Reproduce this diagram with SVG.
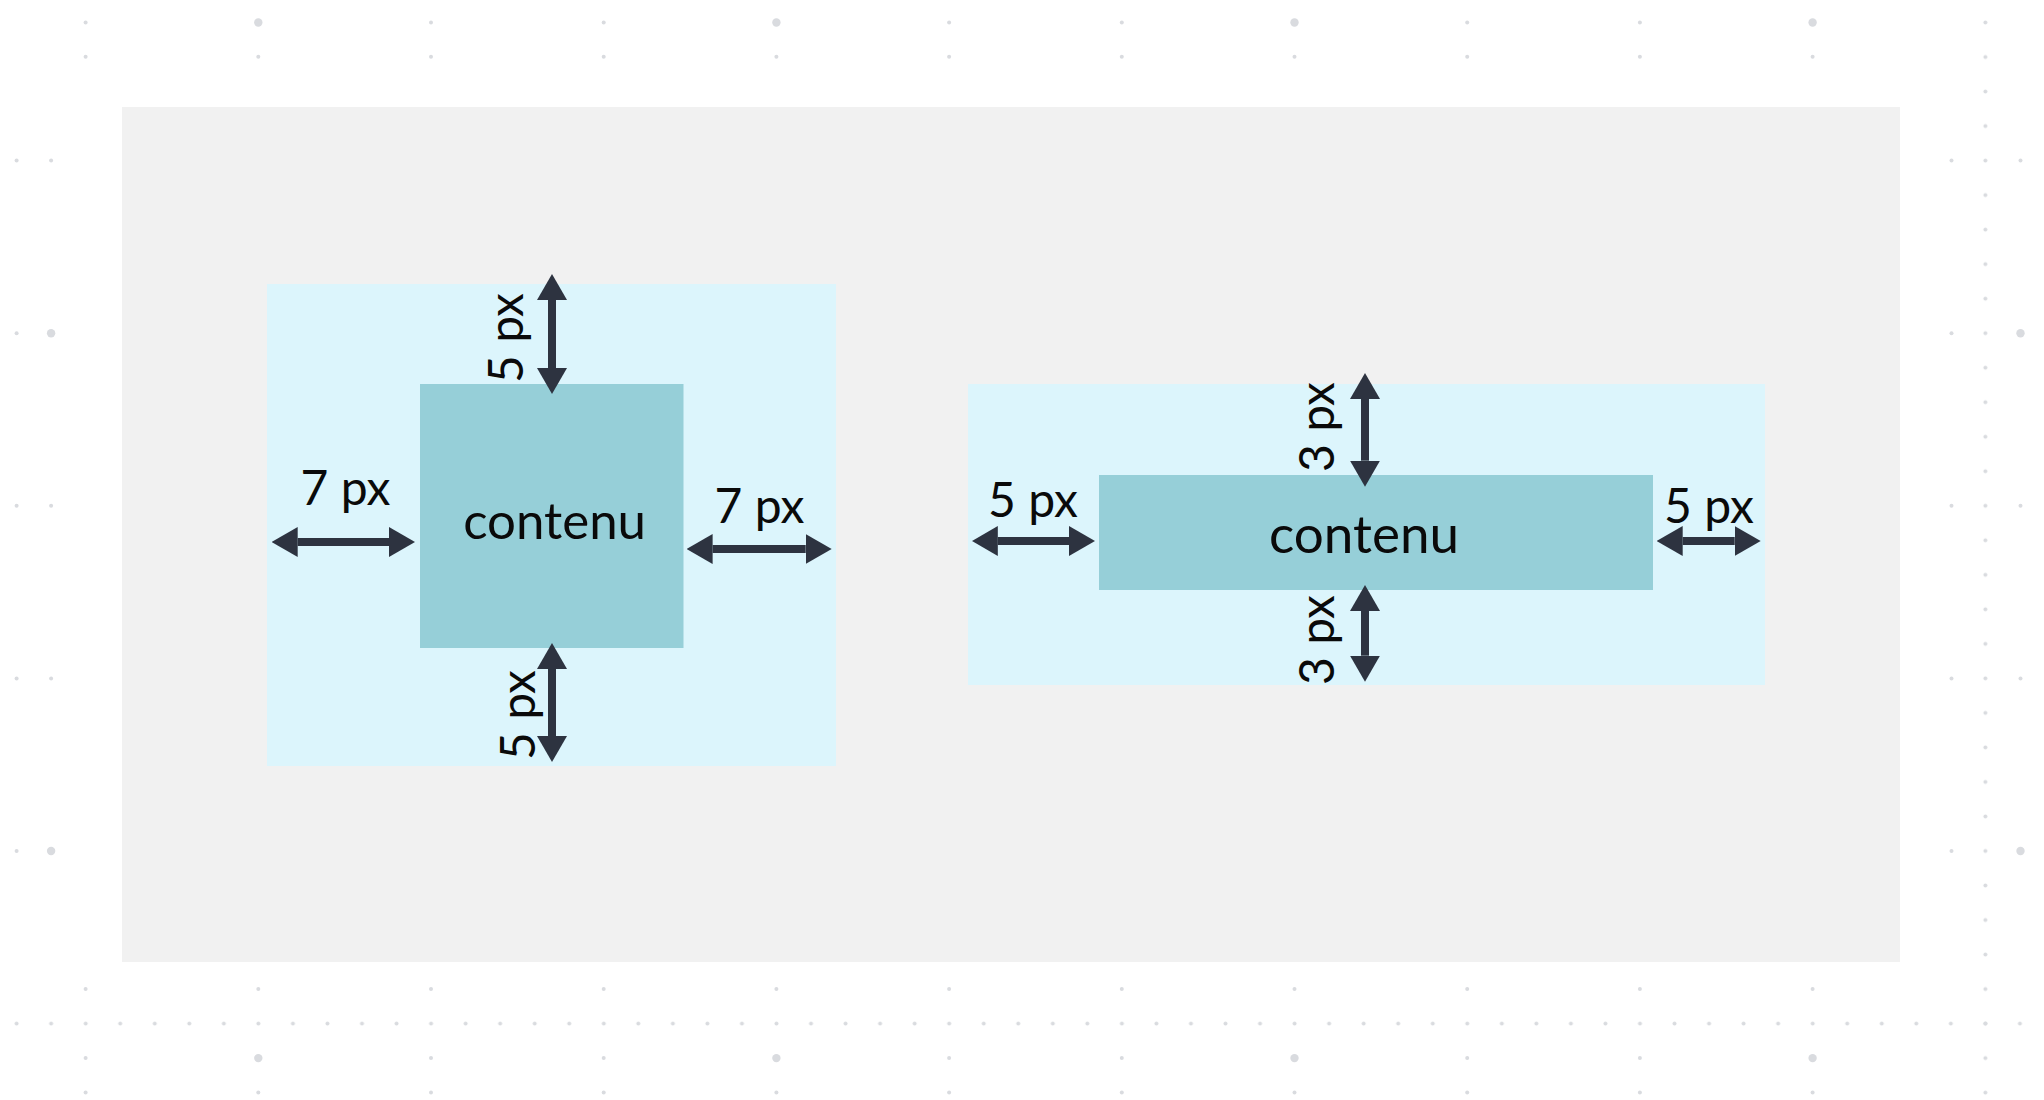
<svg xmlns="http://www.w3.org/2000/svg" width="2044" height="1100" viewBox="0 0 2044 1100">
  <style>
    .dot { fill: #d9dbdf; }
    .panel { fill: #f1f1f1; }
    .pad { fill: #dcf5fc; }
    .content { fill: #96cfd8; }
    .lbl { font-family: Lato, "Liberation Sans", sans-serif; font-size: 48px; fill: #0a0a0a; text-anchor: middle; }
    .arrow { stroke: #2d3340; stroke-width: 8; fill: none; marker-start: url(#head); marker-end: url(#head); }
  </style>
  <defs>
    <pattern id="dense" patternUnits="userSpaceOnUse" x="-0.67" y="5.24" width="34.54" height="34.52">
      <circle cx="17.27" cy="17.26" r="2" class="dot"/>
    </pattern>
    <marker id="head" markerUnits="userSpaceOnUse" viewBox="0 0 26 30" refX="0" refY="15" markerWidth="26" markerHeight="30" orient="auto-start-reverse">
      <path d="M0,0 L26,15 L0,30 Z" fill="#2d3340"/>
    </marker>
  </defs>

  <rect width="2044" height="1100" fill="#ffffff"/>

  <g id="background-dots">
    <rect x="1968" y="5" width="36" height="1100" fill="url(#dense)"/>
    <rect x="0" y="1006.3" width="2037" height="34.5" fill="url(#dense)"/>
    <g class="dot">
      <circle cx="85.6" cy="22.5" r="2"/><circle cx="258.3" cy="22.5" r="4.2"/><circle cx="431" cy="22.5" r="2"/><circle cx="603.7" cy="22.5" r="2"/><circle cx="776.4" cy="22.5" r="4.2"/><circle cx="949.1" cy="22.5" r="2"/><circle cx="1121.8" cy="22.5" r="2"/><circle cx="1294.5" cy="22.5" r="4.2"/><circle cx="1467.2" cy="22.5" r="2"/><circle cx="1639.9" cy="22.5" r="2"/><circle cx="1812.6" cy="22.5" r="4.2"/>
      <circle cx="85.6" cy="56.8" r="2"/><circle cx="258.3" cy="56.8" r="2"/><circle cx="431" cy="56.8" r="2"/><circle cx="603.7" cy="56.8" r="2"/><circle cx="776.4" cy="56.8" r="2"/><circle cx="949.1" cy="56.8" r="2"/><circle cx="1121.8" cy="56.8" r="2"/><circle cx="1294.5" cy="56.8" r="2"/><circle cx="1467.2" cy="56.8" r="2"/><circle cx="1639.9" cy="56.8" r="2"/><circle cx="1812.6" cy="56.8" r="2"/>
      <circle cx="85.6" cy="989.1" r="2"/><circle cx="258.3" cy="989.1" r="2"/><circle cx="431" cy="989.1" r="2"/><circle cx="603.7" cy="989.1" r="2"/><circle cx="776.4" cy="989.1" r="2"/><circle cx="949.1" cy="989.1" r="2"/><circle cx="1121.8" cy="989.1" r="2"/><circle cx="1294.5" cy="989.1" r="2"/><circle cx="1467.2" cy="989.1" r="2"/><circle cx="1639.9" cy="989.1" r="2"/><circle cx="1812.6" cy="989.1" r="2"/>
      <circle cx="85.6" cy="1058.1" r="2"/><circle cx="258.3" cy="1058.1" r="4.2"/><circle cx="431" cy="1058.1" r="2"/><circle cx="603.7" cy="1058.1" r="2"/><circle cx="776.4" cy="1058.1" r="4.2"/><circle cx="949.1" cy="1058.1" r="2"/><circle cx="1121.8" cy="1058.1" r="2"/><circle cx="1294.5" cy="1058.1" r="4.2"/><circle cx="1467.2" cy="1058.1" r="2"/><circle cx="1639.9" cy="1058.1" r="2"/><circle cx="1812.6" cy="1058.1" r="4.2"/>
      <circle cx="85.6" cy="1092.6" r="2"/><circle cx="258.3" cy="1092.6" r="2"/><circle cx="431" cy="1092.6" r="2"/><circle cx="603.7" cy="1092.6" r="2"/><circle cx="776.4" cy="1092.6" r="2"/><circle cx="949.1" cy="1092.6" r="2"/><circle cx="1121.8" cy="1092.6" r="2"/><circle cx="1294.5" cy="1092.6" r="2"/><circle cx="1467.2" cy="1092.6" r="2"/><circle cx="1639.9" cy="1092.6" r="2"/><circle cx="1812.6" cy="1092.6" r="2"/>
      <circle cx="1951.5" cy="160.6" r="2"/><circle cx="1951.5" cy="333.2" r="2"/><circle cx="1951.5" cy="505.8" r="2"/><circle cx="1951.5" cy="678.4" r="2"/><circle cx="1951.5" cy="851" r="2"/>
      <circle cx="2020.5" cy="160.6" r="2"/><circle cx="2020.5" cy="333.2" r="4.2"/><circle cx="2020.5" cy="505.8" r="2"/><circle cx="2020.5" cy="678.4" r="2"/><circle cx="2020.5" cy="851" r="4.2"/>
      <circle cx="16.6" cy="160.6" r="2"/><circle cx="16.6" cy="333.2" r="2"/><circle cx="16.6" cy="505.8" r="2"/><circle cx="16.6" cy="678.4" r="2"/><circle cx="16.6" cy="851" r="2"/>
      <circle cx="51.1" cy="160.6" r="2"/><circle cx="51.1" cy="333.2" r="4.2"/><circle cx="51.1" cy="505.8" r="2"/><circle cx="51.1" cy="678.4" r="2"/><circle cx="51.1" cy="851" r="4.2"/>
    </g>
  </g>

  <rect id="panel" class="panel" x="122" y="107" width="1778" height="855"/>

  <g id="left-padding">
    <rect class="pad" x="267" y="284" width="569" height="482"/>
  </g>
  <g id="left-content">
    <rect class="content" x="420" y="384" width="263.5" height="264"/>
    <text class="lbl" x="554.6" y="539" style="font-size:51px">contenu</text>
  </g>

  <g id="right-padding">
    <rect class="pad" x="968" y="384" width="797" height="301"/>
  </g>
  <g id="right-content">
    <rect class="content" x="1099" y="475" width="554" height="115"/>
    <text class="lbl" x="1364" y="552.7" style="font-size:53px">contenu</text>
  </g>

  <g id="connectors">
    <line class="arrow" x1="297.7" y1="542" x2="389" y2="542"/>
    <line class="arrow" x1="712.6" y1="549" x2="805.7" y2="549"/>
    <line class="arrow" x1="552" y1="300" x2="552" y2="368"/>
    <line class="arrow" x1="552" y1="669" x2="552" y2="736"/>
    <line class="arrow" x1="997.8" y1="541" x2="1069" y2="541"/>
    <line class="arrow" x1="1682.7" y1="541" x2="1734.7" y2="541"/>
    <line class="arrow" x1="1365" y1="399" x2="1365" y2="460.7"/>
    <line class="arrow" x1="1365" y1="611" x2="1365" y2="655.7"/>
  </g>

  <g id="labels">
    <text class="lbl" x="345.5" y="505">7 px</text>
    <text class="lbl" x="759.5" y="523">7 px</text>
    <text class="lbl" transform="translate(522.6,338) rotate(-90)">5 px</text>
    <text class="lbl" transform="translate(534.5,715) rotate(-90)">5 px</text>
    <text class="lbl" x="1033" y="516.7">5 px</text>
    <text class="lbl" x="1709" y="522.5">5 px</text>
    <text class="lbl" transform="translate(1334,427) rotate(-90)">3 px</text>
    <text class="lbl" transform="translate(1334,640) rotate(-90)">3 px</text>
  </g>
</svg>
